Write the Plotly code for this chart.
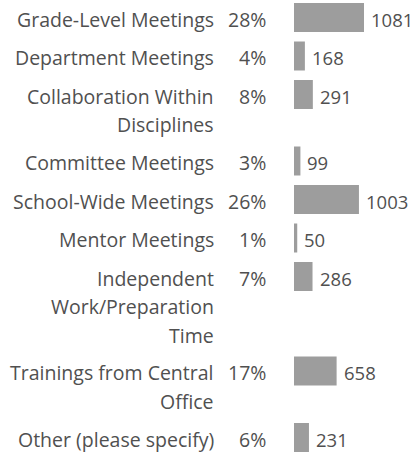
import plotly.graph_objects as go

categories = [
    "Grade-Level Meetings",
    "Department Meetings",
    "Collaboration Within<br>Disciplines",
    "Committee Meetings",
    "School-Wide Meetings",
    "Mentor Meetings",
    "Independent<br>Work/Preparation<br>Time",
    "Trainings from Central<br>Office",
    "Other (please specify)",
]
percents = ["28%", "4%", "8%", "3%", "26%", "1%", "7%", "17%", "6%"]
counts = [1081, 168, 291, 99, 1003, 50, 286, 658, 231]

W, H = 413, 454
ROW = 38.5
LINE = 28.5
FIRST = 17.5
BAR_X0 = 294
UNITS_PER_PX = 1081 / 70.0
TEXT_COLOR = "#505050"
BAR_COLOR = "#9d9d9d"
FONT = "Open Sans"
FS = 19.5
FS_VAL = 18.5
TEXT_DY = -1.5

# vertical positions derived from the number of label lines
ys = []
y = FIRST
for i, c in enumerate(categories):
    ys.append(y)
    nlines = len(c.split("<br>"))
    y += ROW + 28 * (nlines - 1)

fig = go.Figure()
fig.add_trace(go.Bar(
    x=counts, y=ys, orientation="h", width=29,
    marker=dict(color=BAR_COLOR, line=dict(width=0)),
    hoverinfo="skip",
))

annotations = []
for c, p, n, yy in zip(categories, percents, counts, ys):
    for k, line in enumerate(c.split("<br>")):
        annotations.append(dict(
            xref="paper", yref="y", x=216 / W, y=yy + k * LINE,
            text=line, showarrow=False, xanchor="right", yanchor="middle",
            yshift=TEXT_DY,
            font=dict(family=FONT, size=FS, color=TEXT_COLOR),
        ))
    annotations.append(dict(
        xref="paper", yref="y", x=268 / W, y=yy, text=p, showarrow=False,
        xanchor="right", yanchor="middle", yshift=TEXT_DY,
        font=dict(family=FONT, size=FS, color=TEXT_COLOR),
    ))
    annotations.append(dict(
        xref="x", yref="y", x=n, y=yy, text=str(n), showarrow=False,
        xanchor="left", yanchor="middle", xshift=5, yshift=TEXT_DY,
        font=dict(family=FONT, size=FS_VAL, color=TEXT_COLOR),
    ))

fig.update_layout(
    width=W, height=H, autosize=False,
    margin=dict(l=0, r=0, t=0, b=0),
    paper_bgcolor="white", plot_bgcolor="white",
    showlegend=False,
    xaxis=dict(domain=[BAR_X0 / W, 1], range=[0, (W - BAR_X0) * UNITS_PER_PX],
               visible=False, fixedrange=True),
    yaxis=dict(range=[H, 0], visible=False, fixedrange=True),
    annotations=annotations,
)

fig.write_html("out.html", config={"displayModeBar": False})

# remove default page margin so the figure sits at the window's top-left corner
with open("out.html", "r", encoding="utf-8") as f:
    html = f.read()
html = html.replace("<head>", "<head><style>html,body{margin:0;padding:0;overflow:hidden}</style>", 1)
with open("out.html", "w", encoding="utf-8") as f:
    f.write(html)
